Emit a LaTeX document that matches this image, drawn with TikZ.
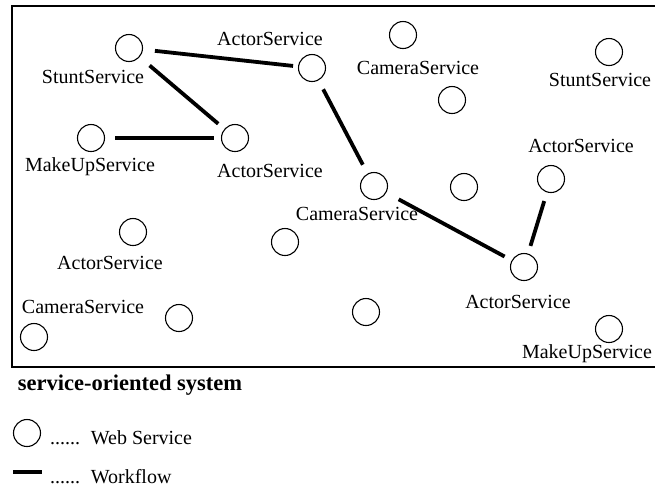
\documentclass[tikz,border=0pt]{standalone}
\usepackage{fontspec}
\setmainfont{Liberation Serif}
\begin{document}
\begin{tikzpicture}[x=1pt,y=-1pt,
  svc/.style={circle,draw,line width=1.1pt,minimum size=27pt,inner sep=0pt},
  lab/.style={inner sep=0pt,font=\rmfamily\fontsize{20}{22}\selectfont},
  flow/.style={line width=3.8pt},
  frame/.style={draw,line width=1.2pt}]
\useasboundingbox (0,0) rectangle (655,488);
\draw[frame] (655,6) -- (12,6) -- (12,367) -- (655,367);
% services
\node[svc] (A) at (129,48) {};
\node[svc] (B) at (312,68) {};
\node[svc] (C) at (91,138) {};
\node[svc] (D) at (235,138) {};
\node[svc] (E) at (403,35) {};
\node[svc] (F) at (452,100) {};
\node[svc] (G) at (609,52) {};
\node[svc] (H) at (551,179) {};
\node[svc] (I) at (374,186) {};
\node[svc] (J) at (464,187) {};
\node[svc] (K) at (524,267) {};
\node[svc] (L) at (366,312) {};
\node[svc] (M) at (609,329) {};
\node[svc] (N) at (133,232) {};
\node[svc] (O) at (285,242) {};
\node[svc] (P) at (34,337) {};
\node[svc] (Q) at (179,318) {};
% labels
\node[lab] (lA) at (93,77) {StuntService};
\node[lab] (lB) at (270,39) {ActorService};
\node[lab] (lC) at (90,167) {MakeUpService};
\node[lab] (lD) at (270,171) {ActorService};
\node[lab] (lE) at (418,68) {CameraService};
\node[lab] (lG) at (600,80) {StuntService};
\node[lab] (lH) at (581,146) {ActorService};
\node[lab] (lI) at (357,214) {CameraService};
\node[lab] (lK) at (518,302) {ActorService};
\node[lab] (lM) at (587,354) {MakeUpService};
\node[lab] (lN) at (110,263) {ActorService};
\node[lab] (lP) at (83,307) {CameraService};
% workflows
\draw[flow,shorten <=12pt,shorten >=5pt] (A) -- (B);
\draw[flow,shorten <=13pt,shorten >=8pt] (A) -- (D);
\draw[flow,shorten <=10pt,shorten >=7pt] (C) -- (D);
\draw[flow,shorten <=10pt,shorten >=10pt] (B) -- (I);
\draw[flow,shorten <=14pt,shorten >=8pt] (I) -- (K);
\draw[flow,shorten <=9pt,shorten >=8pt] (H) -- (K);
% legend
\node[inner sep=0pt,font=\rmfamily\fontsize{22.5}{24}\bfseries\selectfont] (title) at (130,385) {service-oriented system};
\node[svc] (lgc) at (27,433) {};
\node[lab,anchor=west] (lgct) at (50,438) {......\hspace{4pt} Web Service};
\coordinate (lw1) at (13,472);
\coordinate (lw2) at (42,472);
\draw[flow] (lw1) -- (lw2);
\node[lab,anchor=west] (lgwt) at (50,477) {......\hspace{4pt} Workflow};
\end{tikzpicture}
\end{document}
